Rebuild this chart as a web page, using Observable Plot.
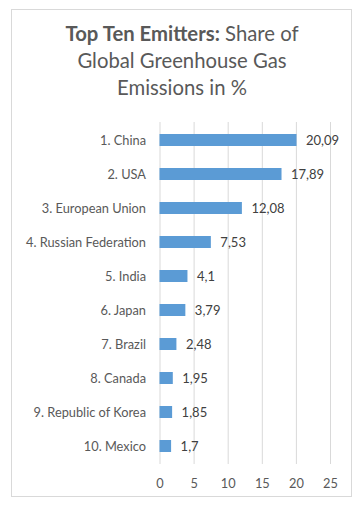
<!DOCTYPE html>
<html>
<head>
<meta charset="utf-8">
<script src="https://cdn.jsdelivr.net/npm/d3@7"></script>
<script src="https://cdn.jsdelivr.net/npm/@observablehq/plot@0.6"></script>
<style>
  html, body { margin: 0; padding: 0; background: #fff; }
  #wrap { position: relative; width: 364px; height: 508px; overflow: hidden; font-family: Lato, sans-serif; }
  #frame { position: absolute; left: 11px; top: 9px; width: 341px; height: 488px; border: 1px solid #d9d9d9; box-sizing: border-box; }
  #title { position: absolute; left: 0; top: 20px; width: 364px; text-align: center; font-size: 20.3px; line-height: 27px; color: #595959; }
  #title b { font-weight: bold; }
  #chart { position: absolute; left: 0; top: 110px; }
</style>
</head>
<body>
<div id="wrap">
  <div id="frame"></div>
  <div id="title"><b>Top Ten Emitters:</b> Share of<br>Global Greenhouse Gas<br>Emissions in %</div>
  <div id="chart"></div>
</div>
<script>
const countries = ["1. China", "2. USA", "3. European Union", "4. Russian Federation", "5. India", "6. Japan", "7. Brazil", "8. Canada", "9. Republic of Korea", "10. Mexico"];
const shares = [20.09, 17.89, 12.08, 7.53, 4.1, 3.79, 2.48, 1.95, 1.85, 1.7];
const xTicks = [0, 5, 10, 15, 20, 25];

const data = countries.map((c, i) => ({country: c, share: shares[i]}));
const fmt = v => String(v).replace(".", ",");

const plot = Plot.plot({
  width: 364,
  height: 398,
  marginLeft: 159.5,
  marginRight: 34,
  marginTop: 12,
  marginBottom: 44,
  style: {fontFamily: "Lato, sans-serif", fontSize: "12.8px", color: "#595959", background: "transparent"},
  x: {domain: [0, 25], ticks: xTicks, label: null, tickSize: 0, tickPadding: 14},
  y: {domain: countries, label: null, tickSize: 0, tickPadding: 14, paddingInner: 0.65, paddingOuter: 0.325},
  marks: [
    Plot.gridX(xTicks, {stroke: "#d9d9d9", strokeOpacity: 1}),
    Plot.barX(data, {x: "share", y: "country", fill: "#5b9bd5"}),
    Plot.text(data, {x: "share", y: "country", text: d => fmt(d.share), dx: 9, textAnchor: "start", fill: "#404040", fontSize: 13})
  ]
});
document.getElementById("chart").appendChild(plot);
</script>
</body>
</html>
